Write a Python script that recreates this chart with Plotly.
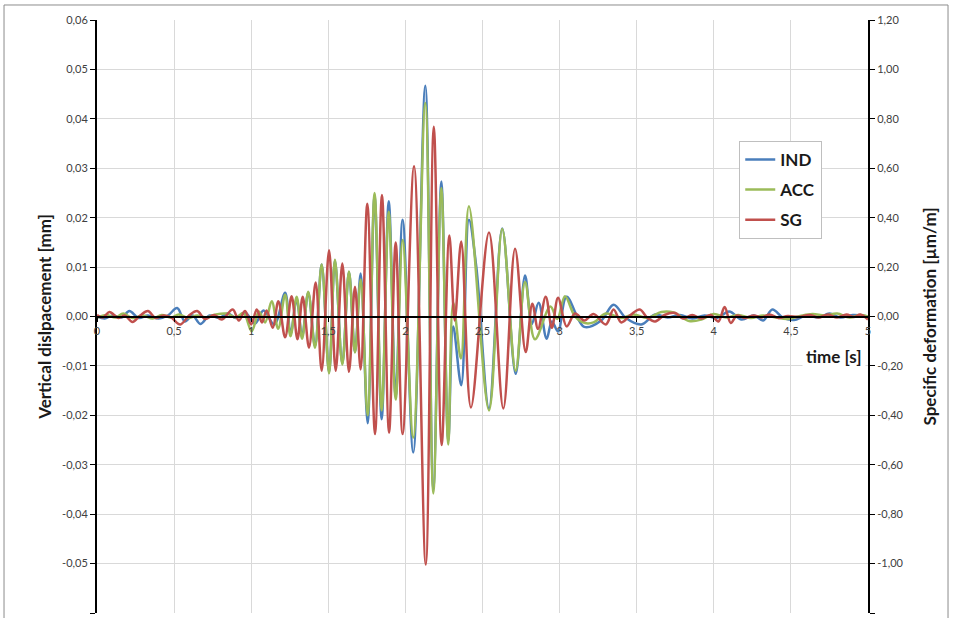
import plotly.graph_objects as go

# ---------------- data ----------------
# IND : vertical displacement from inductive sensor [mm]
t_ind = [0.00, 0.05, 0.10, 0.16, 0.21, 0.27, 0.33, 0.40, 0.46, 0.52, 0.57, 0.62, 0.67, 0.73,
         0.79, 0.85, 0.90, 0.96, 1.025, 1.08, 1.15, 1.22, 1.255, 1.295, 1.33, 1.37, 1.414,
         1.457, 1.505, 1.543, 1.591, 1.634, 1.673, 1.71, 1.755, 1.80, 1.846, 1.892, 1.937,
         1.982, 2.051, 2.129, 2.181, 2.233, 2.278, 2.31, 2.362, 2.412, 2.46, 2.542, 2.628,
         2.715, 2.776, 2.82, 2.864, 2.916, 2.95, 2.99, 3.045, 3.16, 3.27, 3.35, 3.43, 3.53,
         3.62, 3.70, 3.78, 3.86, 3.94, 4.02, 4.10, 4.18, 4.26, 4.32, 4.38, 4.45, 4.52, 4.60,
         4.68, 4.75, 4.82, 4.90, 5.00]
v_ind = [0.0000, -0.0004, 0.0002, -0.0002, 0.0011, -0.0003, 0.0002, -0.0004, 0.0002, 0.0017,
         -0.0010, 0.0002, -0.0015, 0.0002, -0.0003, 0.0006, -0.0003, 0.0008, -0.0014, 0.0012,
         -0.0016, 0.0048, -0.0035, 0.0035, -0.0040, 0.0048, -0.0060, 0.0105, -0.0113, 0.0113,
         -0.0095, 0.0090, -0.0072, 0.0087, -0.0216, 0.0245, -0.0208, 0.0233, -0.0162, 0.0196,
         -0.0275, 0.0467, -0.0350, 0.0273, -0.0252, -0.0020, -0.0139, 0.0196, 0.0100, -0.0186,
         0.0178, -0.0116, 0.0083, -0.0015, 0.0028, -0.0045, -0.0010, -0.0030, 0.0040, -0.0021,
         -0.0008, 0.0024, -0.0003, -0.0016, 0.0004, -0.0002, 0.0003, -0.0004, 0.0002, -0.0003,
         0.0010, -0.0006, 0.0002, -0.0008, 0.0014, -0.0003, -0.0007, 0.0002, -0.0002, 0.0006,
         -0.0002, 0.0003, 0.0000]

# ACC : vertical displacement from accelerometer [mm]
t_acc = [0.00, 0.06, 0.12, 0.17, 0.23, 0.30, 0.36, 0.42, 0.48, 0.53, 0.59, 0.65, 0.71, 0.77,
         0.84, 0.90, 0.95, 1.003, 1.05, 1.09, 1.133, 1.175, 1.22, 1.255, 1.295, 1.33, 1.37,
         1.414, 1.457, 1.505, 1.543, 1.591, 1.634, 1.673, 1.71, 1.755, 1.80, 1.846, 1.892,
         1.937, 1.982, 2.051, 2.129, 2.181, 2.233, 2.278, 2.31, 2.36, 2.412, 2.542, 2.628,
         2.715, 2.776, 2.84, 2.94, 2.985, 3.035, 3.10, 3.16, 3.22, 3.30, 3.40, 3.48, 3.57,
         3.66, 3.74, 3.84, 3.92, 4.00, 4.08, 4.16, 4.24, 4.32, 4.40, 4.48, 4.56, 4.64, 4.72,
         4.80, 4.88, 4.95, 5.00]
v_acc = [-0.0003, 0.0003, -0.0002, 0.0006, -0.0003, 0.0002, -0.0004, 0.0003, -0.0002, 0.0004,
         -0.0003, 0.0002, -0.0002, 0.0004, 0.0006, -0.0002, 0.0007, -0.0030, 0.0010, -0.0012,
         0.0031, -0.0025, 0.0044, -0.0040, 0.0040, -0.0045, 0.0050, -0.0063, 0.0105, -0.0115,
         0.0115, -0.0097, 0.0091, -0.0073, 0.0075, -0.0200, 0.0250, -0.0190, 0.0212, -0.0168,
         0.0155, -0.0245, 0.0432, -0.0358, 0.0260, -0.0259, 0.0028, -0.0085, 0.0223, -0.0190,
         0.0177, -0.0110, 0.0070, -0.0046, 0.0020, -0.0005, 0.0041, 0.0000, -0.0013, -0.0012,
         0.0006, -0.0003, 0.0004, -0.0003, 0.0009, 0.0008, -0.0009, -0.0006, 0.0005, -0.0002,
         0.0003, -0.0003, 0.0002, -0.0002, -0.0005, 0.0001, 0.0005, 0.0002, 0.0006, -0.0002,
         0.0003, 0.0000]

# SG : specific deformation from strain gauge [µm/m]
t_sg = [0.00, 0.04, 0.08, 0.14, 0.18, 0.23, 0.28, 0.33, 0.38, 0.43, 0.48, 0.54, 0.60, 0.65,
        0.70, 0.76, 0.81, 0.88, 0.92, 0.96, 1.00, 1.036, 1.07, 1.10, 1.14, 1.176, 1.22, 1.262,
        1.30, 1.334, 1.375, 1.418, 1.457, 1.505, 1.548, 1.591, 1.634, 1.673, 1.71, 1.753,
        1.803, 1.848, 1.894, 1.937, 1.982, 2.056, 2.132, 2.184, 2.235, 2.285, 2.32, 2.362,
        2.425, 2.542, 2.635, 2.711, 2.78, 2.823, 2.86, 2.91, 2.95, 2.99, 3.046, 3.10, 3.16,
        3.22, 3.30, 3.35, 3.40, 3.46, 3.52, 3.57, 3.62, 3.68, 3.75, 3.80, 3.86, 3.92, 3.98,
        4.03, 4.07, 4.11, 4.15, 4.20, 4.26, 4.31, 4.36, 4.42, 4.48, 4.55, 4.62, 4.68, 4.74,
        4.80, 4.86, 4.91, 4.95, 5.00]
v_sg = [0.006, -0.004, 0.018, -0.006, 0.004, -0.022, 0.004, 0.022, -0.006, 0.004, -0.004,
        -0.032, 0.006, 0.022, -0.010, 0.006, -0.012, 0.028, -0.016, 0.022, -0.032, 0.028,
        -0.024, 0.024, -0.046, 0.062, -0.084, 0.082, -0.092, 0.080, -0.126, 0.138, -0.220,
        0.268, -0.220, 0.214, -0.224, 0.120, -0.214, 0.456, -0.476, 0.492, -0.470, 0.300,
        -0.476, 0.608, -1.004, 0.768, -0.520, 0.328, -0.016, 0.304, -0.368, 0.340, -0.372,
        0.274, -0.144, 0.052, -0.050, 0.080, -0.046, 0.076, -0.040, 0.012, -0.016, 0.010,
        -0.032, 0.028, -0.024, 0.006, 0.028, -0.006, -0.020, 0.006, 0.014, -0.008, 0.006,
        -0.008, 0.006, -0.020, 0.038, -0.026, 0.004, -0.006, 0.004, -0.004, 0.008, -0.006,
        0.002, -0.002, 0.006, -0.004, 0.008, -0.004, 0.008, -0.002, 0.008, -0.012]

x_ticks = [0, 0.5, 1, 1.5, 2, 2.5, 3, 3.5, 4, 4.5, 5]
x_labels = ["0", "0,5", "1", "1,5", "2", "2,5", "3", "3,5", "4", "4,5", "5"]
y_ticks = [0.06, 0.05, 0.04, 0.03, 0.02, 0.01, 0.0, -0.01, -0.02, -0.03, -0.04, -0.05, -0.06]
y_labels = ["0,06", "0,05", "0,04", "0,03", "0,02", "0,01", "0,00",
            "-0,01", "-0,02", "-0,03", "-0,04", "-0,05", "-0,06"]
y2_ticks = [1.2, 1.0, 0.8, 0.6, 0.4, 0.2, 0.0, -0.2, -0.4, -0.6, -0.8, -1.0, -1.2]
y2_labels = ["1,20", "1,00", "0,80", "0,60", "0,40", "0,20", "0,00",
             "-0,20", "-0,40", "-0,60", "-0,80", "-1,00", "-1,20"]

# ---------------- figure ----------------
FONT = "Lato"
TICKFONT = dict(family=FONT, size=11, color="#404040")
TITLEFONT = dict(family=FONT, size=17, color="#1a1a1a")

fig = go.Figure()
fig.add_trace(go.Scatter(x=t_ind, y=v_ind, name="IND", mode="lines", legendgroup="a",
                         line=dict(color="#4A7EBB", width=2.5, shape="spline", smoothing=1.0)))
fig.add_trace(go.Scatter(x=t_acc, y=v_acc, name="ACC", mode="lines", legendgroup="b",
                         line=dict(color="#9BBB59", width=2.5, shape="spline", smoothing=1.0)))
fig.add_trace(go.Scatter(x=t_sg, y=v_sg, name="SG", mode="lines", yaxis="y2", legendgroup="c",
                         line=dict(color="#C0504D", width=2.5, shape="spline", smoothing=1.0)))

fig.update_layout(
    width=954, height=618,
    margin=dict(l=97, r=86, t=20, b=5, autoexpand=False),
    paper_bgcolor="white", plot_bgcolor="white",
    font=dict(family=FONT),
    showlegend=True,
    legend=dict(x=0.833, y=0.796, xanchor="left", yanchor="top",
                bgcolor="white", bordercolor="#bfbfbf", borderwidth=1,
                font=dict(family=FONT, size=17, color="#1a1a1a", weight="bold"),
                tracegroupgap=5, itemwidth=30),
    xaxis=dict(range=[0, 5], tickvals=x_ticks, ticktext=x_labels,
               showgrid=True, gridcolor="#d9d9d9", gridwidth=1,
               anchor="free", position=0.5,
               showline=True, linecolor="#000000", linewidth=2,
               ticks="outside", ticklen=4, tickcolor="#000000",
               tickfont=TICKFONT, zeroline=False),
    yaxis=dict(range=[-0.06, 0.06], tickvals=y_ticks, ticktext=y_labels,
               showgrid=True, gridcolor="#d9d9d9", gridwidth=1,
               showline=True, linecolor="#000000", linewidth=2,
               ticks="outside", ticklen=5, tickcolor="#000000",
               tickfont=TICKFONT, zeroline=False,
               title=dict(text="<b>Vertical dislpacement [mm]</b>", font=TITLEFONT, standoff=6)),
    yaxis2=dict(range=[-1.2, 1.2], tickvals=y2_ticks, ticktext=y2_labels,
                overlaying="y", side="right", showgrid=False,
                showline=True, linecolor="#000000", linewidth=2,
                ticks="outside", ticklen=5, tickcolor="#000000",
                tickfont=TICKFONT, zeroline=False,
                title=dict(text="<b>Specific deformation [µm/m]</b>", font=TITLEFONT, standoff=22)),
)

fig.add_annotation(x=5, y=-0.0081, xref="x", yref="y", xanchor="right", yanchor="middle",
                   text="<b>time [s]</b>", showarrow=False, bgcolor="white", borderpad=3,
                   xshift=-2, font=dict(family=FONT, size=17, color="#1a1a1a"))

# outer chart frame
fig.add_shape(type="rect", xref="paper", yref="paper",
              x0=-0.1206, x1=1.1038, y0=-0.2, y1=1.0253,
              line=dict(color="#8c8c8c", width=1), fillcolor="rgba(0,0,0,0)", layer="below")

fig.write_html("out.html", config={"displayModeBar": False},
               post_script="document.body.style.margin='0px';document.body.style.padding='0px';")
